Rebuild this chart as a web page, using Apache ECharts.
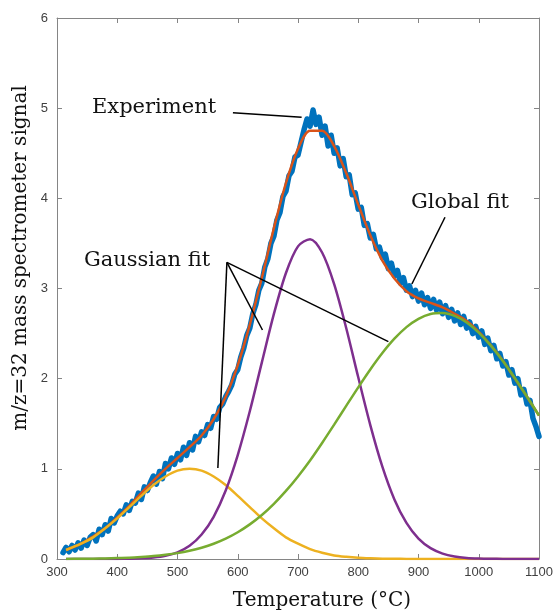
<!DOCTYPE html>
<html>
<head>
<meta charset="utf-8">
<script src="https://cdn.jsdelivr.net/npm/echarts@6/dist/echarts.min.js"></script>
<style>
  html, body { margin: 0; padding: 0; background: #fff; }
  #chart { width: 556px; height: 616px; }
</style>
</head>
<body>
<div id="chart"></div>
<script>
// temperature grid of the fitted curves (°C)
var fitTemps = [315, 340, 360, 380, 400, 420, 440, 460, 480, 500,
  520, 540, 560, 580, 600, 620, 640, 660, 680, 700,
  720, 740, 760, 780, 800, 820, 840, 860, 880, 900,
  920, 940, 960, 980, 1000, 1020, 1040, 1060, 1080, 1100];

var globalFit = [0.10, 0.17, 0.25, 0.34, 0.46, 0.59, 0.73, 0.87, 1.00, 1.12,
  1.24, 1.37, 1.55, 1.80, 2.15, 2.60, 3.12, 3.67, 4.17, 4.55,
  4.75, 4.75, 4.58, 4.28, 3.93, 3.59, 3.31, 3.11, 2.97, 2.89,
  2.84, 2.79, 2.72, 2.64, 2.52, 2.37, 2.20, 2.00, 1.80, 1.59];

var gaussLow = [0.10, 0.17, 0.24, 0.34, 0.45, 0.575, 0.70, 0.82, 0.915, 0.98,
  1.00, 0.98, 0.915, 0.82, 0.70, 0.575, 0.45, 0.34, 0.24, 0.17,
  0.11, 0.07, 0.04, 0.024, 0.013, 0.007, 0.003, 0.002, 0.001, 0,
  0, 0, 0, 0, 0, 0, 0, 0, 0, 0];

var gaussMid = [0, 0, 0, 0, 0.001, 0.003, 0.007, 0.016, 0.035, 0.074,
  0.146, 0.271, 0.468, 0.759, 1.153, 1.638, 2.181, 2.718, 3.172, 3.467,
  3.547, 3.399, 3.049, 2.562, 2.015, 1.485, 1.024, 0.661, 0.400, 0.226,
  0.120, 0.060, 0.028, 0.012, 0.005, 0.002, 0.001, 0, 0, 0];

var gaussHigh = [0.001, 0.003, 0.004, 0.006, 0.010, 0.014, 0.022, 0.032, 0.046, 0.065,
  0.091, 0.125, 0.169, 0.226, 0.297, 0.384, 0.488, 0.612, 0.755, 0.916,
  1.093, 1.287, 1.490, 1.698, 1.904, 2.102, 2.284, 2.443, 2.572, 2.664,
  2.718, 2.729, 2.696, 2.623, 2.510, 2.366, 2.195, 2.004, 1.801, 1.592];

// measured signal, one sample every 5 °C from 310 °C
var expStart = 310;
var expStep = 5;
var experiment = [
  0.07, 0.13, 0.08, 0.15,  0.10, 0.18, 0.12, 0.21,  0.15, 0.24, 0.27, 0.20,
  0.33, 0.27, 0.38, 0.31,  0.45, 0.40, 0.48, 0.53,  0.50, 0.60, 0.54, 0.64,
  0.62, 0.73, 0.66, 0.80,  0.76, 0.85, 0.92, 0.83,  0.97, 0.89, 1.06, 1.00,
  1.12, 1.05, 1.17, 1.10,  1.24, 1.15, 1.29, 1.21,  1.36, 1.30, 1.41, 1.37,
  1.49, 1.45, 1.58, 1.55,  1.68, 1.72, 1.80, 1.86,  1.93, 2.05, 2.10, 2.24,
  2.34, 2.48, 2.56, 2.72,  2.82, 2.98, 3.06, 3.24,  3.33, 3.50, 3.58, 3.76,
  3.84, 4.02, 4.08, 4.25,  4.30, 4.46, 4.48, 4.62,  4.76, 4.88, 4.80, 4.98,
  4.82, 4.90, 4.70, 4.80,  4.58, 4.70, 4.50, 4.56,  4.36, 4.44, 4.24, 4.26,
  4.04, 4.06, 3.88, 3.90,  3.70, 3.72, 3.56, 3.60,  3.44, 3.46, 3.34, 3.38,
  3.22, 3.28, 3.14, 3.20,  3.06, 3.12, 2.98, 3.03,  2.91, 2.98, 2.86, 2.95,
  2.82, 2.90, 2.78, 2.88,  2.76, 2.85, 2.72, 2.81,  2.68, 2.77, 2.64, 2.73,
  2.60, 2.69, 2.56, 2.63,  2.50, 2.58, 2.46, 2.53,  2.38, 2.45, 2.31, 2.37,
  2.22, 2.28, 2.14, 2.19,  2.04, 2.10, 1.95, 2.00,  1.82, 1.88, 1.72, 1.76,
  1.56, 1.47, 1.36
];

var xTicks = [300, 400, 500, 600, 700, 800, 900, 1000, 1100];
var yTicks = [0, 1, 2, 3, 4, 5, 6];

// annotation leaders, in data units [°C, signal]
var expLeader = [[592, 4.95], [706, 4.90]];
var gaussVertex = [582, 3.29];
var gaussTargets = [[567, 1.01], [641, 2.54], [850, 2.41]];
var globalLeader = [[944, 3.79], [889, 3.05]];

var SERIF = "'DejaVu Serif', 'Liberation Serif', serif";
var SANS = "'Liberation Sans', Arial, sans-serif";
var AXIS_GREY = '#858585';

function pairs(xs, ys) {
  return ys.map(function (v, i) { return [xs[i], v]; });
}

function expPairs() {
  return experiment.map(function (v, i) { return [expStart + i * expStep, v]; });
}

function curve(name, data, color, width, z) {
  return {
    name: name,
    type: 'line',
    data: data,
    smooth: 0.3,
    showSymbol: false,
    silent: true,
    z: z,
    lineStyle: { color: color, width: width }
  };
}

function boxAxis(type, pos, show) {
  var isX = type === 'x';
  return {
    type: 'value',
    position: pos,
    min: isX ? xTicks[0] : yTicks[0],
    max: isX ? xTicks[xTicks.length - 1] : yTicks[yTicks.length - 1],
    interval: isX ? 100 : 1,
    axisLine: { show: true, onZero: false, lineStyle: { color: AXIS_GREY, width: 1 } },
    axisTick: { show: true, inside: true, length: 5, lineStyle: { color: AXIS_GREY } },
    axisLabel: {
      show: show,
      color: '#404040',
      fontFamily: SANS,
      fontSize: 13,
      margin: isX ? 7 : 9,
      formatter: function (v) { return String(v); }
    },
    splitLine: { show: false }
  };
}

var leaderLines = [
  { coords: expLeader },
  { coords: globalLeader }
].concat(gaussTargets.map(function (t) {
  return { coords: [gaussVertex, t] };
}));

var expSeries = curve('Experiment', expPairs(), '#0072BD', 5.5, 2);
expSeries.smooth = false;
expSeries.lineStyle.cap = 'round';
expSeries.lineStyle.join = 'round';

var chart = echarts.init(document.getElementById('chart'), null, { renderer: 'canvas' });

chart.setOption({
  animation: false,
  backgroundColor: '#fff',
  grid: { left: 57, right: 17, top: 18, bottom: 57 },
  xAxis: [boxAxis('x', 'bottom', true), boxAxis('x', 'top', false)],
  yAxis: [boxAxis('y', 'left', true), boxAxis('y', 'right', false)],
  series: [
    expSeries,
    curve('Global fit', pairs(fitTemps, globalFit), '#D95319', 2.5, 3),
    curve('Gaussian 1', pairs(fitTemps, gaussLow), '#EDB120', 2.5, 4),
    curve('Gaussian 2', pairs(fitTemps, gaussMid), '#7E2F8E', 2.5, 4),
    curve('Gaussian 3', pairs(fitTemps, gaussHigh), '#77AC30', 2.5, 5),
    {
      type: 'lines',
      coordinateSystem: 'cartesian2d',
      silent: true,
      z: 6,
      lineStyle: { color: '#000', width: 1.5, opacity: 1 },
      data: leaderLines
    }
  ],
  graphic: [
    {
      type: 'text', left: 92, top: 97,
      style: { text: 'Experiment', font: '21px ' + SERIF, fill: '#111' }
    },
    {
      type: 'text', left: 84, top: 250,
      style: { text: 'Gaussian fit', font: '21px ' + SERIF, fill: '#111' }
    },
    {
      type: 'text', left: 411, top: 192,
      style: { text: 'Global fit', font: '21px ' + SERIF, fill: '#111' }
    },
    {
      type: 'text', x: 322, y: 601,
      style: {
        text: 'Temperature (°C)', font: '20px ' + SERIF, fill: '#111',
        align: 'center', verticalAlign: 'middle'
      }
    },
    {
      type: 'text', x: 21, y: 258, rotation: Math.PI / 2,
      style: {
        text: 'm/z=32 mass spectrometer signal', font: '20px ' + SERIF, fill: '#111',
        align: 'center', verticalAlign: 'middle'
      }
    }
  ]
});
</script>
</body>
</html>
